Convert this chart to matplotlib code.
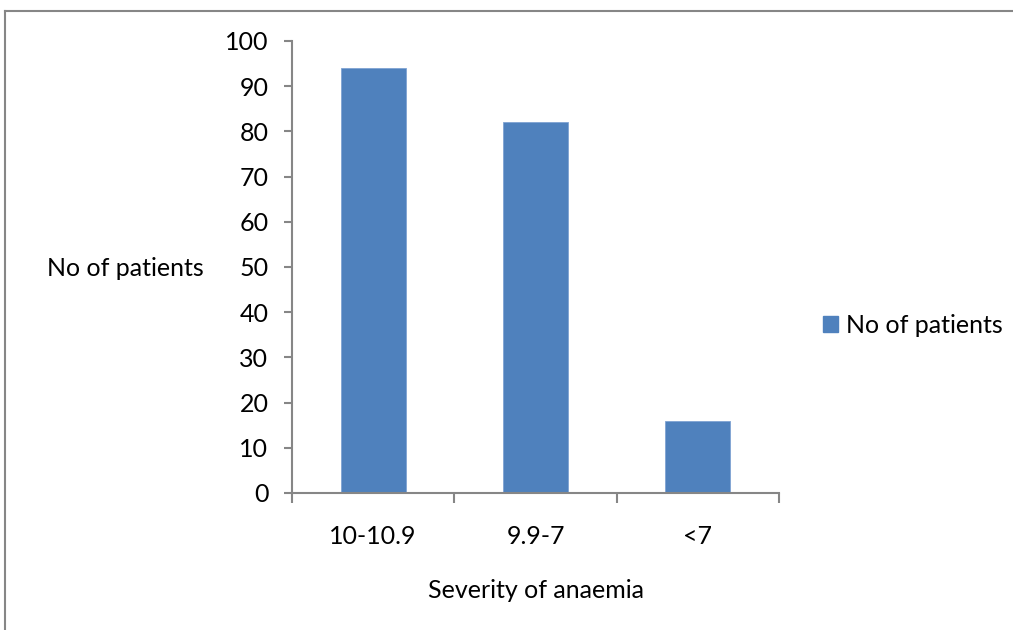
import matplotlib
matplotlib.use("Agg")
import matplotlib.pyplot as plt
from matplotlib.lines import Line2D
from matplotlib.patches import Patch

categories = ["10-10.9", "9.9-7", "<7"]
patients = [94, 82, 16]
y_ticks = [0, 10, 20, 30, 40, 50, 60, 70, 80, 90, 100]

plt.rcParams['font.family'] = ['Lato', 'DejaVu Sans']

W, H = 1013, 630
FS = 18
fig = plt.figure(figsize=(W / 100, H / 100), dpi=100)
ax = fig.add_axes([292 / W, 1 - 493 / H, (779 - 292) / W, (493 - 41) / H])

bar_color = "#4F81BD"
axis_color = "#868686"

x = list(range(len(categories)))
ax.bar(x, patients, width=0.4, color=bar_color, edgecolor="#7FA3D3", linewidth=0.6,
       label="No of patients", zorder=2)

ax.set_xlim(-0.5, len(categories) - 0.5)
ax.set_ylim(0, 100)
ax.set_yticks(y_ticks)
ax.set_xticks(x)
ax.set_xticklabels(categories)
ax.set_xticks([i - 0.5 for i in range(len(categories) + 1)], minor=True)

for s in ["top", "right"]:
    ax.spines[s].set_visible(False)
for s in ["left", "bottom"]:
    ax.spines[s].set_color(axis_color)
    ax.spines[s].set_linewidth(1.5)

ax.tick_params(axis="y", which="major", direction="out", length=6, width=1.5,
               color=axis_color, labelsize=FS, pad=11, labelcolor="black")
ax.tick_params(axis="x", which="major", length=0, labelsize=FS, pad=23, labelcolor="black")
ax.tick_params(axis="x", which="minor", direction="out", length=7, width=1.5, color=axis_color)

ax.set_xlabel("Severity of anaemia", fontsize=FS, labelpad=22)
ax.set_ylabel("No of patients", fontsize=FS, rotation=0, ha="center", va="center")
ax.yaxis.set_label_coords((125 - 292) / (779 - 292), 1 - (268 - 41) / (493 - 41))

handles = [Patch(facecolor=bar_color, edgecolor=bar_color)]
fig.legend(handles, ["No of patients"], loc="center left",
           bbox_to_anchor=(823 / W, 1 - 325 / H), frameon=False, fontsize=FS,
           borderaxespad=0, borderpad=0,
           handlelength=0.6, handleheight=0.6, handletextpad=0.3)

# outer chart border (top and left edges)
fig.add_artist(Line2D([5 / W, 5 / W], [0, 1 - 11 / H], transform=fig.transFigure,
                      color=axis_color, linewidth=1.5))
fig.add_artist(Line2D([5 / W, 1], [1 - 11 / H, 1 - 11 / H], transform=fig.transFigure,
                      color=axis_color, linewidth=1.5))

fig.savefig("out.png", dpi=100)
